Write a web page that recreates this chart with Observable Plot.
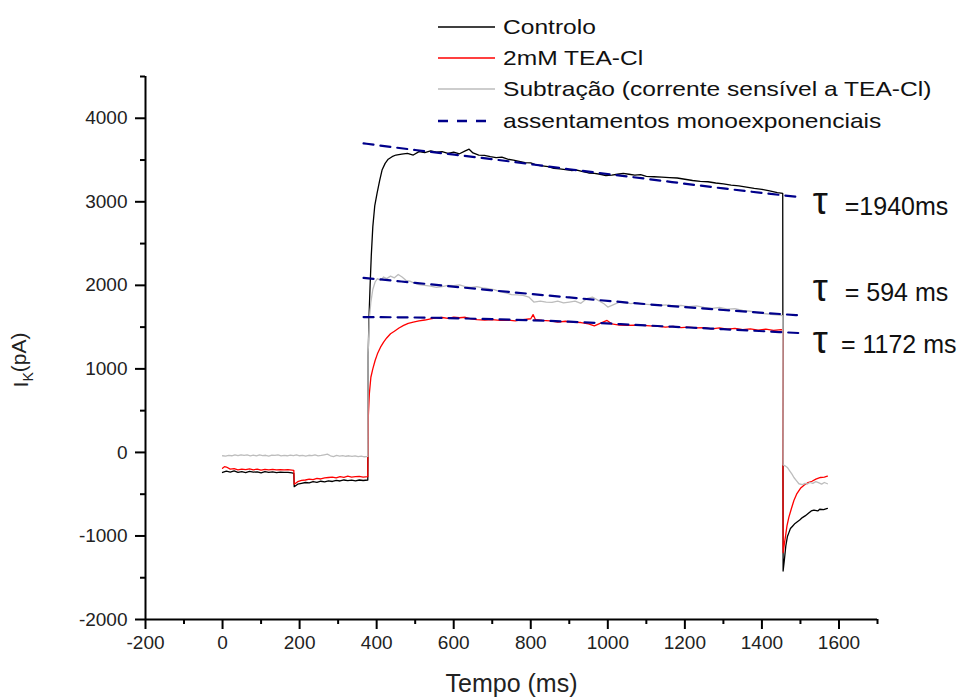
<!DOCTYPE html>
<html><head><meta charset="utf-8">
<script src="https://cdn.jsdelivr.net/npm/d3@7"></script>
<script src="https://cdn.jsdelivr.net/npm/@observablehq/plot@0.6"></script>
<style>
body{margin:0;background:#fff;}
#wrap{position:relative;width:979px;height:698px;font-family:"Liberation Sans",Arial,sans-serif;}
#legend{position:absolute;left:438px;top:11px;}
.row{display:flex;align-items:center;height:31.3px;}
.row svg{margin-right:8px;flex:none;}
.lbl{font-size:21px;color:#111;transform:scaleX(1.17);transform-origin:0 50%;white-space:nowrap;}
</style></head>
<body><div id="wrap"><div id="chart"></div><div id="legend"></div></div>
<script>
// ---- data ----
const controloT = [0,10,20,30,40,50,60,70,80,90,100,110,120,130,140,150,160,170,180,185,186,195,205,215,225,235,245,255,265,275,285,295,305,315,325,335,345,355,365,377,378,380,383,386,390,395,401,408,414,422,430,440,450,465,480,495,510,525,540,555,570,585,600,615,630,640,650,665,680,695,710,725,740,755,770,785,800,815,830,845,860,875,890,905,920,935,950,965,980,995,1010,1025,1040,1055,1070,1085,1100,1120,1140,1160,1180,1200,1220,1240,1260,1280,1300,1320,1340,1360,1380,1400,1420,1440,1454,1455,1458,1462,1466,1470,1474,1480,1486,1492,1498,1505,1512,1520,1528,1535,1545,1550,1560,1570];
const controloI = [-240,-225,-235,-220,-238,-230,-242,-228,-236,-232,-245,-230,-238,-234,-242,-236,-240,-238,-245,-250,-410,-380,-370,-360,-365,-350,-358,-345,-352,-340,-348,-335,-342,-330,-338,-332,-340,-330,-336,-330,1150,1600,2000,2350,2700,2950,3100,3260,3380,3460,3510,3540,3560,3570,3580,3560,3600,3590,3610,3595,3600,3580,3595,3575,3610,3630,3585,3560,3555,3540,3530,3535,3510,3500,3485,3470,3465,3440,3430,3420,3400,3395,3385,3375,3380,3360,3345,3340,3330,3315,3320,3330,3340,3330,3320,3325,3305,3300,3295,3290,3285,3270,3255,3245,3240,3225,3215,3200,3190,3175,3160,3150,3130,3110,3100,-1420,-1300,-1120,-1010,-960,-910,-880,-850,-830,-810,-780,-760,-730,-700,-690,-700,-680,-685,-670];

const teaT = [0,5,10,20,30,40,50,60,70,80,90,100,110,120,130,140,150,160,170,180,185,186,195,205,215,225,235,245,255,265,275,285,295,305,315,325,335,345,355,365,377,378,381,385,390,396,402,410,418,426,436,446,458,470,482,495,510,525,540,555,570,585,600,615,630,645,660,680,700,720,740,760,780,800,806,812,830,850,870,890,910,930,950,965,980,998,1010,1030,1050,1070,1090,1110,1130,1150,1170,1190,1210,1230,1250,1270,1290,1310,1330,1350,1370,1390,1410,1430,1450,1454,1455,1458,1461,1465,1470,1476,1483,1490,1500,1510,1520,1530,1540,1552,1562,1570];
const teaI = [-190,-170,-175,-200,-195,-210,-200,-205,-198,-208,-200,-212,-204,-210,-202,-208,-205,-210,-206,-212,-215,-380,-350,-335,-330,-320,-325,-310,-318,-305,-300,-295,-305,-290,-298,-285,-295,-290,-288,-295,-290,400,700,900,1000,1100,1180,1260,1320,1370,1420,1450,1490,1520,1545,1560,1575,1585,1600,1610,1615,1605,1620,1612,1618,1600,1590,1585,1590,1580,1585,1575,1590,1600,1650,1590,1580,1575,1560,1570,1560,1555,1540,1515,1545,1580,1540,1525,1520,1525,1520,1515,1510,1500,1510,1495,1500,1490,1495,1480,1490,1475,1485,1470,1480,1465,1475,1460,1470,1465,-1200,-1100,-1010,-880,-775,-680,-575,-500,-430,-390,-360,-345,-320,-300,-295,-285];

const subT = [0,8,16,24,32,40,48,56,64,72,80,88,96,104,112,120,128,136,144,152,160,168,176,184,192,200,208,216,224,232,240,248,256,264,272,280,288,296,304,312,320,328,336,344,352,360,368,377,378,381,385,390,396,402,410,418,426,436,446,456,466,476,486,496,510,525,540,555,570,585,600,615,630,645,660,675,690,705,720,735,750,765,780,795,808,825,840,855,870,885,900,915,930,945,960,975,990,1000,1015,1030,1045,1060,1075,1090,1110,1130,1150,1170,1190,1210,1230,1250,1270,1290,1310,1330,1350,1370,1390,1410,1430,1450,1454,1455,1460,1466,1472,1478,1483,1490,1496,1505,1512,1518,1525,1532,1540,1548,1555,1562,1570];
const subI = [-40,-45,-35,-40,-30,-38,-28,-36,-30,-40,-32,-42,-30,-38,-34,-44,-32,-36,-30,-42,-35,-40,-32,-38,-30,-40,-36,-44,-34,-38,-30,-42,-36,-28,-20,-40,-50,-36,-44,-38,-46,-40,-48,-42,-50,-44,-52,-48,1200,1600,1800,1950,2040,2080,2060,2100,2080,2110,2090,2130,2100,2060,2050,2030,2010,2000,1990,1975,1985,2000,1995,2005,1985,1975,1985,1970,1960,1950,1925,1910,1890,1885,1880,1860,1800,1810,1800,1795,1810,1790,1800,1810,1785,1840,1860,1820,1780,1740,1770,1800,1790,1780,1790,1775,1770,1760,1765,1755,1760,1745,1755,1735,1725,1735,1715,1720,1700,1690,1670,1660,1650,1640,1635,-150,-160,-180,-220,-260,-300,-340,-375,-385,-370,-378,-360,-370,-350,-365,-380,-360,-375];

// monoexponential fits (dashed), read at a few times
const fitT = [366,500,700,900,1100,1300,1500];
const fitControlo = [3700,3620,3510,3390,3275,3160,3055];
const fitSub = [2090,2030,1940,1855,1775,1705,1640];
const fitTea = [1620,1615,1595,1565,1520,1475,1428];

const xMajor = [-200,0,200,400,600,800,1000,1200,1400,1600];
const xMinor = [-100,100,300,500,700,900,1100,1300,1500,1700];
const yMajor = [-2000,-1000,0,1000,2000,3000,4000];
const yMinor = [-1500,-500,500,1500,2500,3500,4500];

const seriesNames = ["Controlo","2mM TEA-Cl","Subtração (corrente sensível a TEA-Cl)","assentamentos monoexponenciais"];
const seriesColors = ["#000000","#ff0000","#bdbdbd","#00008b"];

const tauText = ["=1940ms","= 594 ms","= 1172 ms"];
const tauY = [2934,1904,1281];
const tauSymX = 1532;
const tauTextX = [1615,1615,1605];

// ---- build ----
const toRows = (T, V) => T.map((t, k) => ({t, v: V[k]}));
const FONT = "Liberation Sans, Arial, sans-serif";

const chart = Plot.plot({
  width: 979, height: 698,
  marginLeft: 145, marginRight: 102, marginTop: 76, marginBottom: 79,
  x: {domain: [-200, 1700]},
  y: {domain: [-2000, 4500]},
  style: {fontFamily: FONT, fontSize: "19px", color: "#222", background: "#fff"},
  marks: [
    Plot.axisX(xMajor, {tickSize: 10, tickPadding: 6, strokeWidth: 2, stroke: "#000", tickFormat: d => String(d), fontSize: 19, label: null}),
    Plot.axisX(xMinor, {tickSize: 5, strokeWidth: 2, stroke: "#000", tickFormat: () => "", label: null}),
    Plot.axisY(yMajor, {tickSize: 10, tickPadding: 8, strokeWidth: 2, stroke: "#000", tickFormat: d => String(d), fontSize: 19, label: null}),
    Plot.axisY(yMinor, {tickSize: 5, strokeWidth: 2, stroke: "#000", tickFormat: () => "", label: null}),
    Plot.ruleX([-200], {y1: -2000, y2: 4500, stroke: "#000", strokeWidth: 2}),
    Plot.ruleY([-2000], {x1: -200, x2: 1700, stroke: "#000", strokeWidth: 2}),
    Plot.line(toRows(controloT, controloI), {x: "t", y: "v", stroke: seriesColors[0], strokeWidth: 1.3}),
    Plot.line(toRows(teaT, teaI), {x: "t", y: "v", stroke: seriesColors[1], strokeWidth: 1.3}),
    Plot.line(toRows(subT, subI), {x: "t", y: "v", stroke: seriesColors[2], strokeWidth: 1.3}),
    Plot.line(toRows(fitT, fitControlo), {x: "t", y: "v", stroke: seriesColors[3], strokeWidth: 2.2, strokeDasharray: "10,7", curve: "monotone-x"}),
    Plot.line(toRows(fitT, fitSub), {x: "t", y: "v", stroke: seriesColors[3], strokeWidth: 2.2, strokeDasharray: "10,7", curve: "monotone-x"}),
    Plot.line(toRows(fitT, fitTea), {x: "t", y: "v", stroke: seriesColors[3], strokeWidth: 2.2, strokeDasharray: "10,7", curve: "monotone-x"}),
    Plot.text(tauY, {x: () => tauSymX, y: d => d, text: () => "τ", fontSize: 38, textAnchor: "start", fill: "#111", lineAnchor: "middle", dy: -5}),
    Plot.text(tauY, {x: (d, i) => tauTextX[i], y: d => d, text: (d, i) => tauText[i], fontSize: 25, textAnchor: "start", fill: "#111", lineAnchor: "middle"}),
    Plot.text(["Tempo (ms)"], {frameAnchor: "bottom", text: d => d, dy: 64, lineAnchor: "middle", fontSize: 25, fill: "#222"})
  ]
});
document.getElementById("chart").appendChild(chart);

// y-axis label with subscript
const svg = d3.select(chart);
const yl = svg.append("text")
  .attr("transform", "translate(28,360) rotate(-90)")
  .attr("text-anchor", "middle")
  .attr("font-family", FONT)
  .attr("font-size", 21)
  .attr("fill", "#222");
yl.append("tspan").text("I");
yl.append("tspan").attr("font-size", 14).attr("dy", "0.35em").text("K");
yl.append("tspan").attr("dy", "-0.35em").text("(pA)");

// legend
const leg = d3.select("#legend");
seriesNames.forEach((name, k) => {
  const row = leg.append("div").attr("class", "row");
  const s = row.append("svg").attr("width", 57).attr("height", 10);
  s.append("line").attr("x1", 0).attr("x2", 57).attr("y1", 5).attr("y2", 5)
    .attr("stroke", seriesColors[k])
    .attr("stroke-width", k === 3 ? 2.6 : 1.5)
    .attr("stroke-dasharray", k === 3 ? "10,9" : null);
  row.append("span").attr("class", "lbl").text(name);
});
</script></body></html>
